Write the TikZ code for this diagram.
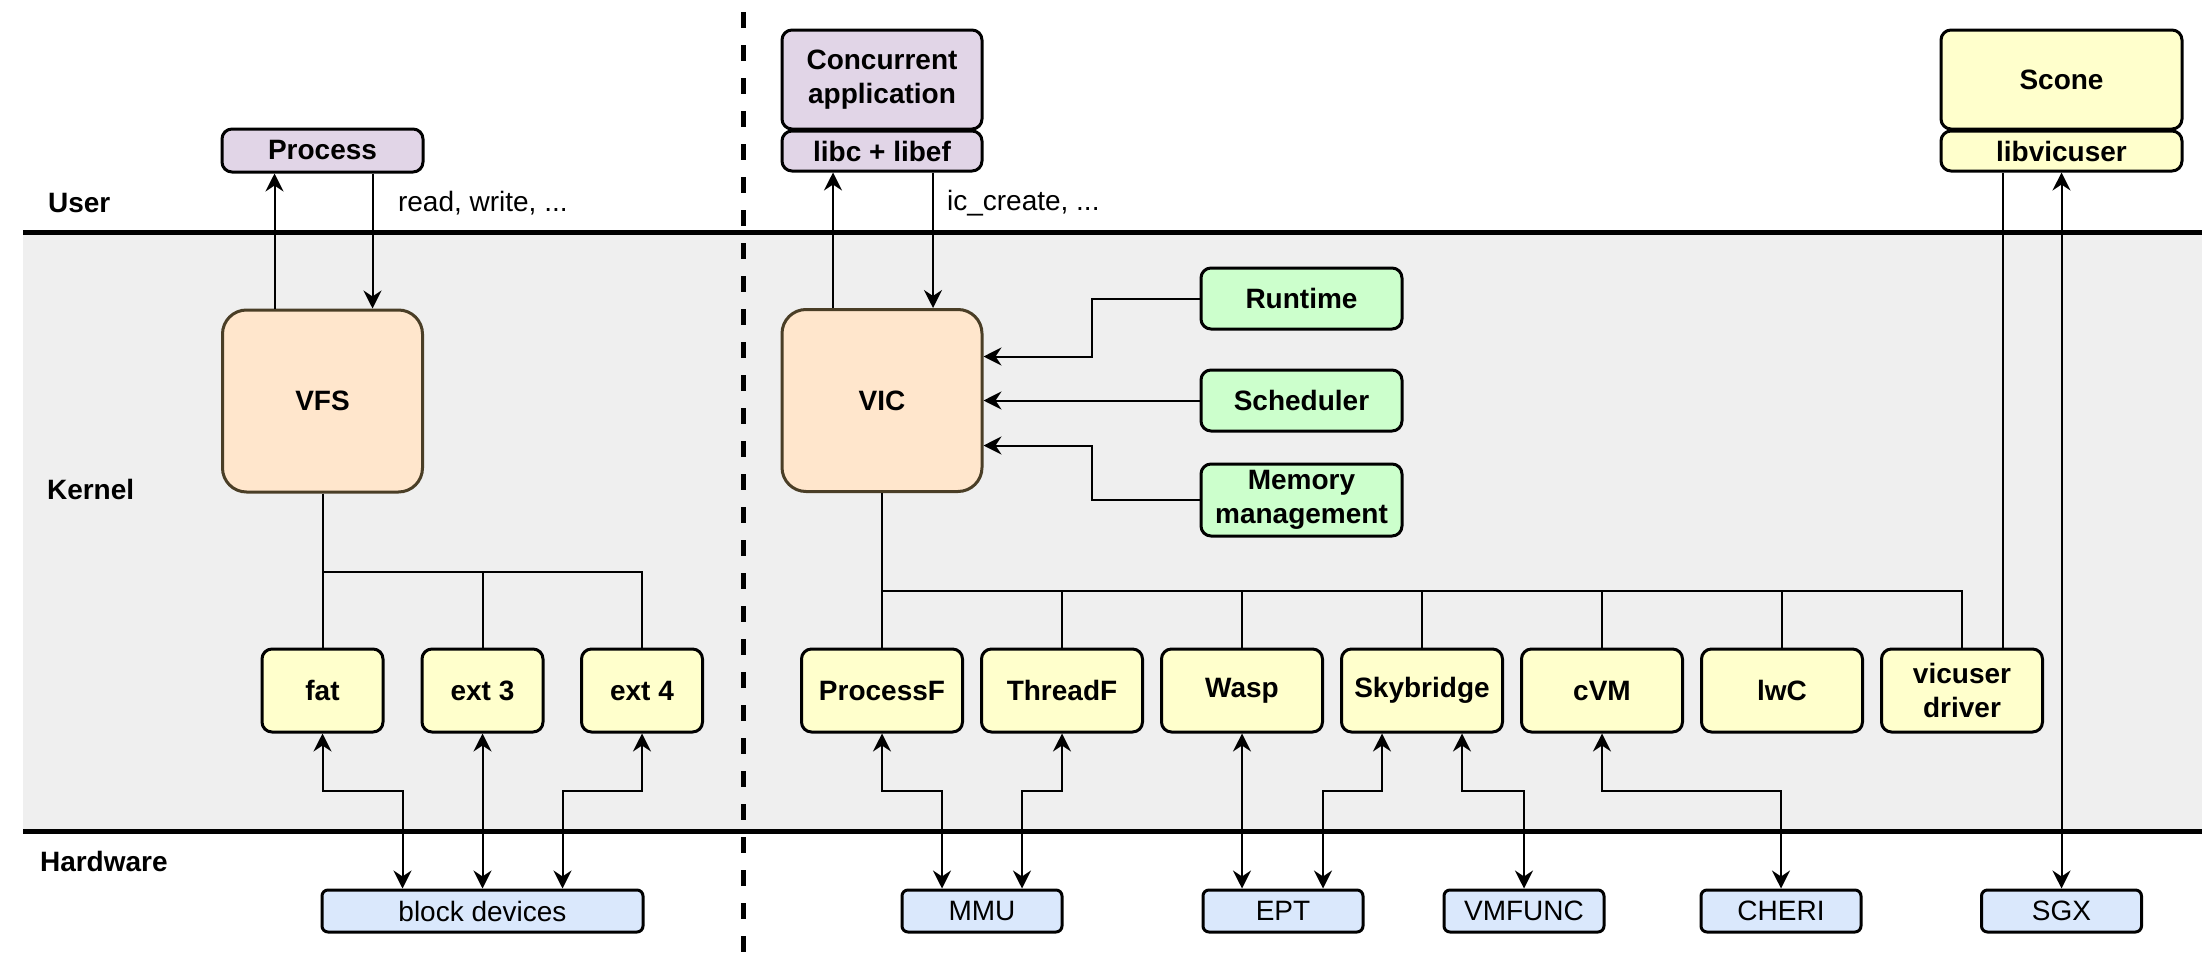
\documentclass[tikz,border=0pt]{standalone}
\usepackage{fontspec}
\setmainfont{Liberation Sans}
\usetikzlibrary{arrows.meta,calc}
\definecolor{purplebox}{HTML}{E1D5E7}
\definecolor{orangebox}{HTML}{FFE6CC}
\definecolor{greenbox}{HTML}{CCFFCC}
\definecolor{yellowbox}{HTML}{FFFFCC}
\definecolor{bluebox}{HTML}{DAE8FC}
\definecolor{kernelgrey}{HTML}{EFEFEF}
\definecolor{coreedge}{HTML}{4A3E26}
\begin{document}
\begin{tikzpicture}[x=0.5pt, y=-0.5pt,
        font=\fontsize{14}{17}\selectfont,
        box/.style={draw=black, line width=1.5pt, rounded corners=5pt, align=center, inner sep=0pt, font=\fontsize{14}{17}\selectfont\bfseries},
        userbox/.style={box, fill=purplebox},
        libbox/.style={box, fill=yellowbox},
        corebox/.style={box, draw=coreedge, fill=orangebox, rounded corners=12pt, minimum width=100pt, minimum height=91pt},
        helperbox/.style={box, fill=greenbox, minimum width=100.5pt},
        fsbox/.style={box, fill=yellowbox, minimum width=60.5pt, minimum height=41.5pt},
        modbox/.style={box, fill=yellowbox, minimum width=80.5pt, minimum height=41.5pt},
        hwbox/.style={box, fill=bluebox, rounded corners=3pt, minimum width=80pt, minimum height=21pt, font=\fontsize{14}{17}\selectfont},
        layer/.style={anchor=west, font=\fontsize{14}{17}\selectfont\bfseries},
        sep/.style={line width=2.5pt},
        wire/.style={line width=1pt},
        arr/.style={wire, -{Stealth[length=9pt,width=9pt,inset=3pt]}},
        dbl/.style={wire, {Stealth[length=9pt,width=9pt,inset=3pt]}-{Stealth[length=9pt,width=9pt,inset=3pt]}}]
            \useasboundingbox (0,0) rectangle (2202,969);
            \fill[kernelgrey] (23,232) rectangle (2202,831);
            \draw[sep] (23,232) -- (2202,232);
            \draw[sep] (23,831) -- (2202,831);
            \draw[sep, dash pattern=on 8pt off 8.5pt] (743,12) -- (743,952);
            \node[layer] (user) at (41,203) {User};
            \node[layer] (kernel) at (40,489) {Kernel};
            \node[layer] (hardware) at (33,861) {Hardware};
            \coordinate (fbus) at (0,572);
            \coordinate (vbus) at (0,591);
            \coordinate (hbus) at (0,791);

            \node[userbox, minimum width=100.5pt, minimum height=21.5pt] (proc) at (322.5,150.5) {Process};
            \node[corebox] (vfs) at (322.5,401) {VFS};
            \node[fsbox] (fat) at (322.5,690.5) {fat};
            \node[fsbox] (ext3) at (482.5,690.5) {ext 3};
            \node[fsbox] (ext4) at (642,690.5) {ext 4};
            \node[hwbox, minimum width=160.5pt] (blk) at (482.5,911) {block devices};
            \draw[arr] ([xshift=-24pt]vfs.north) -- ([xshift=-24pt]proc.south);
            \draw[arr] ([xshift=25pt]proc.south) -- ([xshift=25pt]vfs.north);
            \node[anchor=west] (rw) at (391,203) {read, write, ...};
            \draw[wire] (vfs.south) -- (fat.north);
            \draw[wire] (vfs.south |- fbus) -| (ext4.north);
            \draw[wire] (ext3.north) -- (ext3.north |- fbus);
            \draw[dbl] (fat.south) -- (fat.south |- hbus) -| ([xshift=-40pt]blk.north);
            \draw[dbl] (ext3.south) -- (blk.north);
            \draw[dbl] (ext4.south) -- (ext4.south |- hbus) -| ([xshift=40pt]blk.north);

            \node[userbox, minimum width=100pt, minimum height=49.5pt] (app) at (882,79.5) {Concurrent\\application};
            \node[userbox, minimum width=100pt, minimum height=20pt] (libef) at (882,151) {libc + libef};
            \node[corebox] (vic) at (882,400.5) {VIC};
            \draw[arr] ([xshift=-24.5pt]vic.north) -- ([xshift=-24.5pt]libef.south);
            \draw[arr] ([xshift=25.5pt]libef.south) -- ([xshift=25.5pt]vic.north);
            \node[anchor=west] (icc) at (940,203) {ic\_create, ...};
            \node[helperbox, minimum height=30.5pt] (rt) at (1301.5,298.5) {Runtime};
            \node[helperbox, minimum height=30.5pt] (sched) at (1301.5,400.5) {Scheduler};
            \node[helperbox, minimum height=36pt] (mem) at (1301.5,500) {Memory\\management};
            \draw[arr] (rt.west) -- ++(-108,0) |- ([yshift=22pt]vic.east);
            \draw[arr] (sched.west) -- (vic.east);
            \draw[arr] (mem.west) -- ++(-108,0) |- ([yshift=-22.5pt]vic.east);

            \node[modbox] (procf) at (882,690.5) {ProcessF};
            \node[modbox] (thrf) at (1062,690.5) {ThreadF};
            \node[modbox] (wasp) at (1242,690.5) {Wasp};
            \node[modbox] (sky) at (1422,690.5) {Skybridge};
            \node[modbox] (cvm) at (1602,690.5) {cVM};
            \node[modbox] (lwc) at (1782,690.5) {lwC};
            \node[modbox] (vdrv) at (1962,690.5) {vicuser\\driver};
            \draw[wire] (vic.south) -- (procf.north);
            \draw[wire] (vic.south |- vbus) -| (vdrv.north);
            \draw[wire] (thrf.north) -- (thrf.north |- vbus);
            \draw[wire] (wasp.north) -- (wasp.north |- vbus);
            \draw[wire] (sky.north) -- (sky.north |- vbus);
            \draw[wire] (cvm.north) -- (cvm.north |- vbus);
            \draw[wire] (lwc.north) -- (lwc.north |- vbus);

            \node[hwbox] (mmu) at (982,911) {MMU};
            \node[hwbox] (ept) at (1283,911) {EPT};
            \node[hwbox] (vmfunc) at (1524,911) {VMFUNC};
            \node[hwbox] (cheri) at (1781,911) {CHERI};
            \node[hwbox] (sgx) at (2061.5,911) {SGX};
            \draw[dbl] (procf.south) -- (procf.south |- hbus) -| ([xshift=-20pt]mmu.north);
            \draw[dbl] (thrf.south) -- (thrf.south |- hbus) -| ([xshift=20pt]mmu.north);
            \draw[dbl] (wasp.south) -- (wasp.south |- ept.north);
            \draw[dbl] ([xshift=-20pt]sky.south) -- ($(sky.south |- hbus)+(-40,0)$) -| ([xshift=20pt]ept.north);
            \draw[dbl] ([xshift=20pt]sky.south) -- ($(sky.south |- hbus)+(40,0)$) -| (vmfunc.north);
            \draw[dbl] (cvm.south) -- (cvm.south |- hbus) -| (cheri.north);

            \node[libbox, minimum width=120.5pt, minimum height=49.5pt] (scone) at (2061.5,79.5) {Scone};
            \node[libbox, minimum width=120.5pt, minimum height=20pt] (libv) at (2061.5,151) {libvicuser};
            \draw[wire] ($(vdrv.north)+(41,0)$) -- ($(vdrv.north |- libv.south)+(41,0)$);
            \draw[dbl] (libv.south) -- (sgx.north);
        \end{tikzpicture}
\end{document}
